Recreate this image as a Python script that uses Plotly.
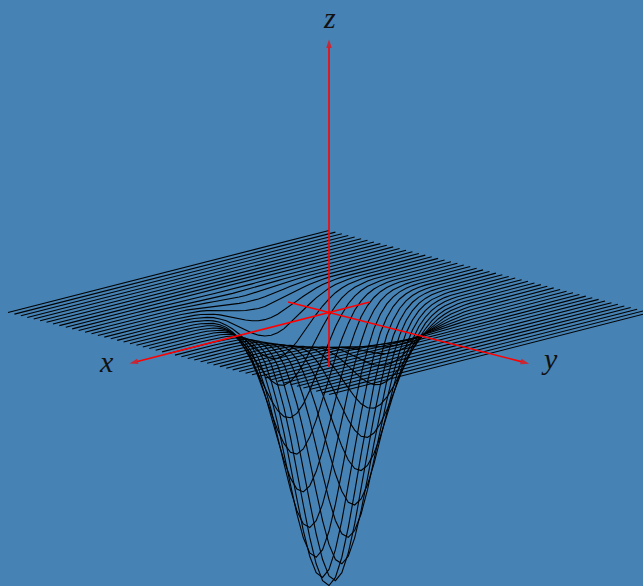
import numpy as np
import plotly.graph_objects as go

# grid of the sheet, 51 lines running along x, one every 0.04
grid_half = [0.04 * i for i in range(26)]
# height factor of the well at each grid step from the centre
well_half = [1.0, 0.9763, 0.9085, 0.8057, 0.6811, 0.5488, 0.4215, 0.3084, 0.2151,
             0.1376, 0.0863, 0.0515, 0.0293, 0.0160, 0.0082, 0.0040, 0.0019, 0.00085,
             0.00036, 0.00014, 0.00006, 0.00002, 0.0, 0.0, 0.0, 0.0]
well_depth = -1.0

# axes: [start, end] in the same units as the sheet
x_axis = [-0.255, 1.243]
y_axis = [-0.255, 1.247]
z_axis = [-0.2, 1.0]

labels = ["x", "y", "z"]
label_pos = [(1.385, 0, 0), (0, 1.375, 0), (0, 0, 1.075)]
label_shift = [8, 10, 2]

# view
cx, cy = 329.0, 312.5
ax, ay, az = 160.5, 41.0, 273.0


def sx(x, y, z):
    return cx + ax * (np.asarray(y) - np.asarray(x))


def sy(x, y, z):
    return cy + ay * (np.asarray(x) + np.asarray(y)) - az * np.asarray(z)


grid = np.array([-g for g in grid_half[:0:-1]] + grid_half)
well = np.array(well_half[:0:-1] + well_half)

fig = go.Figure()

# sheet
for j, y0 in enumerate(grid):
    z = well_depth * well * well[j]
    fig.add_trace(go.Scatter(x=sx(grid, y0, z), y=sy(grid, y0, z), mode="lines",
                             line=dict(color="black", width=1.1), hoverinfo="skip"))

# axes
ends = [(x_axis, 0), (y_axis, 1), (z_axis, 2)]
for vals, k in ends:
    p = [[0, 0], [0, 0], [0, 0]]
    p[k] = vals
    fig.add_trace(go.Scatter(x=sx(*p), y=sy(*p), mode="lines+markers",
                             line=dict(color="#ff0000", width=1.6),
                             marker=dict(symbol=["circle", "arrow"], size=[0, 9], angleref="previous",
                                         color="#ff0000", line=dict(width=0)),
                             hoverinfo="skip"))

for txt, pos, shift in zip(labels, label_pos, label_shift):
    fig.add_annotation(x=float(sx(*pos)), y=float(sy(*pos)), yshift=shift, text="<i>%s</i>" % txt,
                       showarrow=False, font=dict(family="Liberation Serif", size=30, color="#111111"))

fig.update_layout(width=643, height=586, margin=dict(l=0, r=0, t=0, b=0), showlegend=False,
                  plot_bgcolor="#4682b4", paper_bgcolor="#4682b4")
fig.update_xaxes(visible=False, range=[0, 643])
fig.update_yaxes(visible=False, range=[586, 0])

fig.write_html("out.html", config={"displayModeBar": False}, post_script="document.body.style.margin='0';")
